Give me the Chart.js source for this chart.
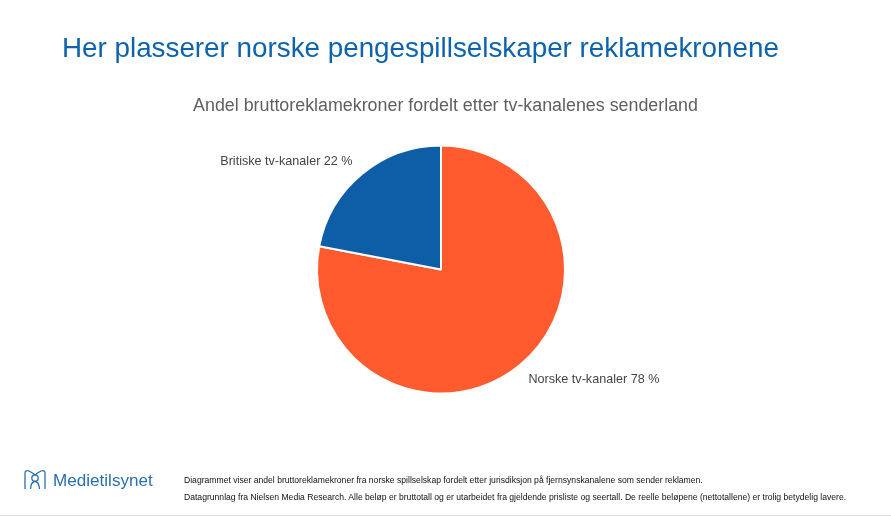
<!DOCTYPE html>
<html lang="no"><head><meta charset="utf-8">
<script src="https://cdn.jsdelivr.net/npm/chart.js@4/dist/chart.umd.min.js"></script>
<style>
html,body{margin:0;padding:0;background:#fff;width:891px;height:516px;overflow:hidden;font-family:"Liberation Sans",Arial,sans-serif}
#wrap{position:relative;width:891px;height:516px}
canvas{position:absolute;left:0;top:0}
.t{position:absolute;white-space:nowrap}
#title{left:62px;top:31px;font-size:27.8px;line-height:34px;color:#0F63AB}
#logoText{left:53px;top:470px;font-size:17.1px;line-height:22px;color:#2A6FAF}
.foot{left:184px;font-size:8.6px;line-height:12px;color:#111}
#rule{position:absolute;left:0;top:515px;width:891px;height:1px;background:#e3e3e3}
svg{position:absolute;left:24px;top:469px}
</style></head><body><div id="wrap">
<canvas id="c" width="891" height="516"></canvas>
<div class="t" id="title">Her plasserer norske pengespillselskaper reklamekronene</div>
<svg width="22" height="22" viewBox="0 0 22 22" fill="none" stroke="#2A6FAF" stroke-width="1.3"><path d="M1 20V4C1 2 3 1 5 2C7 3 9 4 11 6C13 4 15 3 17 2C19 1 21 2 21 4V20"/><circle cx="11" cy="9" r="3.2"/><path d="M6.5 20C6.8 15.5 8.5 12.5 11 12.5C13.5 12.5 15.2 15.5 15.5 20"/></svg>
<div class="t" id="logoText">Medietilsynet</div>
<div class="t foot" id="f1" style="top:474px">Diagrammet viser andel bruttoreklamekroner fra norske spillselskap fordelt etter jurisdiksjon på fjernsynskanalene som sender reklamen.</div>
<div class="t foot" id="f2" style="top:491px">Datagrunnlag fra Nielsen Media Research. Alle beløp er bruttotall og er utarbeidet fra gjeldende prisliste og seertall. De reelle beløpene (nettotallene) er trolig betydelig lavere.</div>
<div id="rule"></div>
</div>
<script>
const categories = ["Norske tv-kanaler", "Britiske tv-kanaler"];
const shares = [78, 22];
const sliceColors = ["#FF5B2E", "#0E5EA7"];
const subtitle = "Andel bruttoreklamekroner fordelt etter tv-kanalenes senderland";

const sliceLabels = {
  id: "sliceLabels",
  afterDatasetsDraw(chart) {
    const ctx = chart.ctx;
    const arcs = chart.getDatasetMeta(0).data;
    ctx.save();
    ctx.font = '12.6px "Liberation Sans", Arial, sans-serif';
    ctx.fillStyle = "#444";
    ctx.textBaseline = "middle";
    arcs.forEach((arc, i) => {
      const mid = (arc.startAngle + arc.endAngle) / 2;
      const x = arc.x + Math.cos(mid) * (arc.outerRadius + 14) - 0.5;
      const y = arc.y + Math.sin(mid) * (arc.outerRadius + 17) + 1;
      ctx.textAlign = Math.cos(mid) < 0 ? "right" : "left";
      ctx.fillText(categories[i] + " " + shares[i] + " %", x, y);
    });
    ctx.restore();
  }
};

new Chart(document.getElementById("c"), {
  type: "pie",
  data: { labels: categories, datasets: [{ data: shares, backgroundColor: sliceColors, borderColor: "#fff", borderWidth: 2 }] },
  options: {
    responsive: false, animation: false, devicePixelRatio: 1,
    layout: { padding: { top: 144.5, bottom: 121.5, left: 0, right: 9 } },
    plugins: {
      legend: { display: false }, tooltip: { enabled: false },
      title: { display: false }
    }
  },
  plugins: [sliceLabels, {
    id: "sub",
    afterDraw(chart) {
      const ctx = chart.ctx;
      ctx.save();
      ctx.font = '17.85px "Liberation Sans", Arial, sans-serif';
      ctx.fillStyle = "#5f5f5f";
      ctx.textAlign = "center";
      ctx.textBaseline = "middle";
      ctx.fillText(subtitle, 445.5, 106.5);
      ctx.restore();
    }
  }]
});
</script></body></html>
